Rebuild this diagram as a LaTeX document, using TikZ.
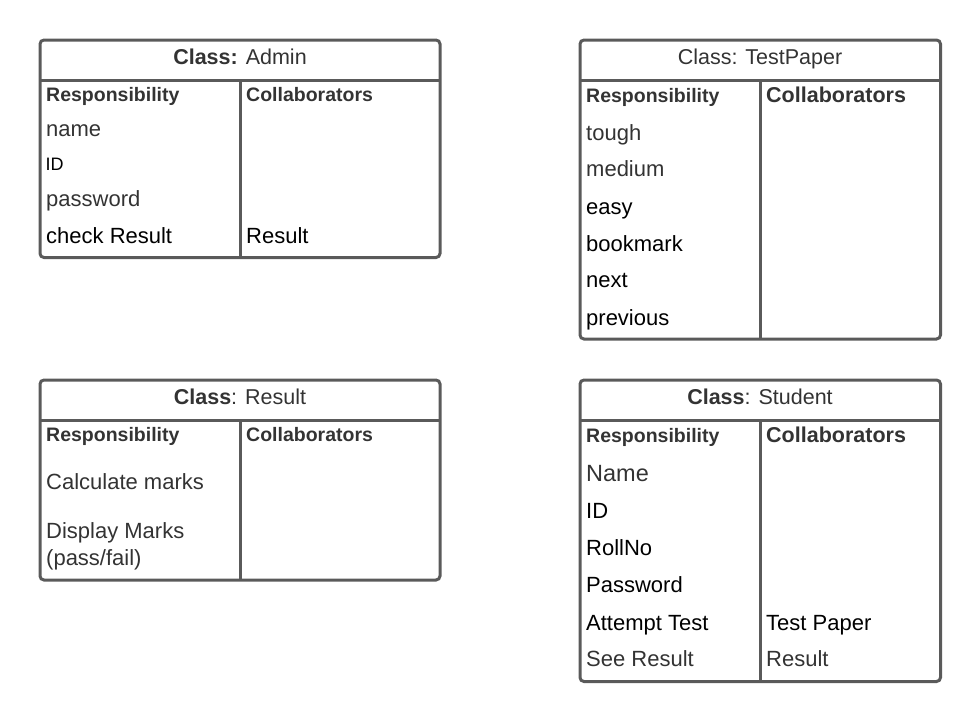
\documentclass[tikz,border=0pt]{standalone}
\usepackage{fontspec}
\setmainfont{Liberation Sans}
\definecolor{linegray}{RGB}{90,90,90}
\definecolor{dgray}{RGB}{51,51,51}
\tikzset{
  card/.style={draw=linegray, line width=3pt, rounded corners=4pt},
  sepline/.style={draw=linegray, line width=3pt},
  txt/.style={anchor=base west, inner sep=0pt, text=dgray, font=\fontsize{22}{24}\selectfont},
  blk/.style={txt, text=black},
  hd/.style={anchor=base, inner sep=0pt, text=dgray, font=\fontsize{21.5}{24}\selectfont},
  rh/.style={txt, font=\bfseries\fontsize{19.5}{22}\selectfont},
  ch/.style={txt, font=\bfseries\fontsize{21.5}{24}\selectfont},
  smalltxt/.style={anchor=base west, inner sep=0pt, text=black, font=\fontsize{18}{20}\selectfont},
}
\begin{document}
\begin{tikzpicture}[x=1pt,y=-1pt]
\useasboundingbox (0,0) rectangle (980,721);
% ---------- Admin ----------
\draw[card] (40,40) rectangle (440,257.5);
\draw[sepline] (40,80) -- (440,80);
\draw[sepline] (240,80) -- (240,257.5);
\node[hd] (adminH) at (240,64.3) {\textbf{Class:} Admin};
\node[rh] (adminR) at (46,101) {Responsibility};
\node[rh] (adminC) at (246,101) {Collaborators};
\node[txt] (adminName) at (46,136.7) {name};
\node[smalltxt] (adminID) at (45.5,170.3) {ID};
\node[txt] (adminPw) at (46,206) {password};
\node[blk] (adminChk) at (46,243.3) {check Result};
\node[blk] (adminRes) at (246,243.3) {Result};
% ---------- TestPaper ----------
\draw[card] (580,40) rectangle (940.5,339);
\draw[sepline] (580,80) -- (940.5,80);
\draw[sepline] (760,80) -- (760,339);
\node[hd] (tpH) at (760,64.3) {Class: TestPaper};
\node[rh] (tpR) at (586,102.7) {Responsibility};
\node[ch] (tpC) at (766,102.7) {Collaborators};
\node[txt] (tpTough) at (586,140) {tough};
\node[txt] (tpMed) at (586,176.7) {medium};
\node[blk] (tpEasy) at (586,214) {easy};
\node[blk] (tpBook) at (586,251) {bookmark};
\node[blk] (tpNext) at (586,287.7) {next};
\node[blk] (tpPrev) at (586,325) {previous};
% ---------- Result ----------
\draw[card] (40,380) rectangle (440,580);
\draw[sepline] (40,420.5) -- (440,420.5);
\draw[sepline] (240,420.5) -- (240,580);
\node[hd] (resH) at (240,404.3) {\textbf{Class}: Result};
\node[rh] (resR) at (46,441.7) {Responsibility};
\node[rh] (resC) at (246,441.7) {Collaborators};
\node[txt] (resCalc) at (46,489.3) {Calculate marks};
\node[txt] (resDisp) at (46,538.3) {Display Marks};
\node[txt] (resPF) at (46,565) {(pass/fail)};
% ---------- Student ----------
\draw[card] (580,380) rectangle (940.5,681.5);
\draw[sepline] (580,420.5) -- (940.5,420.5);
\draw[sepline] (760,420.5) -- (760,681.5);
\node[hd] (stH) at (760,404.3) {\textbf{Class}: Student};
\node[rh] (stR) at (586,442.7) {Responsibility};
\node[ch] (stC) at (766,442.7) {Collaborators};
\node[txt, font=\fontsize{23.5}{26}\selectfont] (stName) at (586,481) {Name};
\node[blk] (stID) at (586,518.3) {ID};
\node[blk] (stRoll) at (586,555.7) {RollNo};
\node[blk] (stPw) at (586,592.7) {Password};
\node[blk] (stAtt) at (586,630) {Attempt Test};
\node[blk] (stTP) at (766,630) {Test Paper};
\node[txt] (stSee) at (586,666.7) {See Result};
\node[txt] (stRes) at (766,666.7) {Result};
\end{tikzpicture}
\end{document}
